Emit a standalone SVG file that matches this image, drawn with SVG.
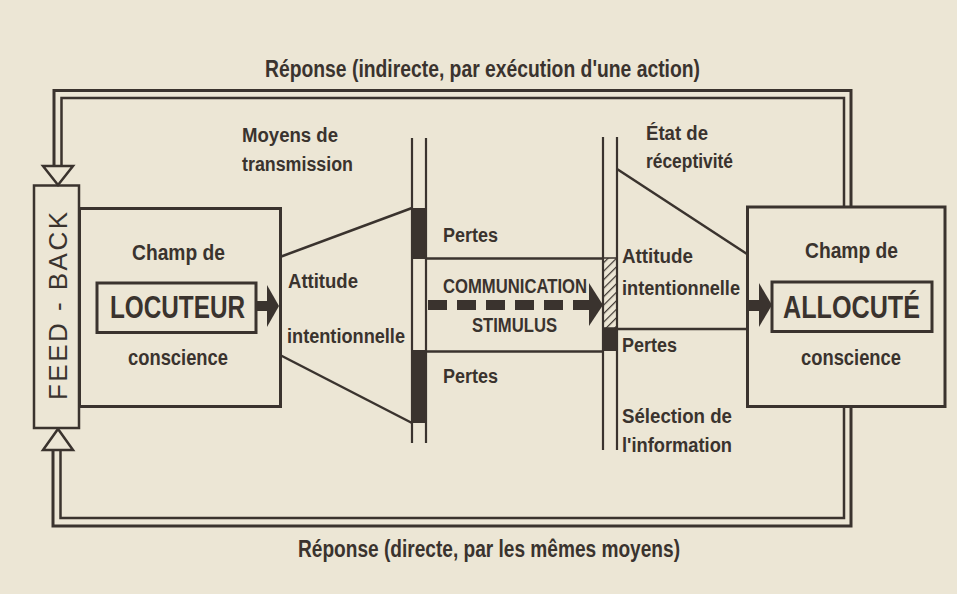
<svg xmlns="http://www.w3.org/2000/svg" width="957" height="594" viewBox="0 0 957 594">
<defs>
<style>
.ink{stroke:#3a332e;fill:none}
.t{font-family:"Liberation Sans",Arial,sans-serif;font-weight:bold;fill:#3a332e;font-size:20px}
.big{font-size:31px}
.rep{font-size:23px}
.fill{fill:#3a332e}
</style>
<pattern id="hatch" patternUnits="userSpaceOnUse" width="6" height="6" patternTransform="rotate(45)">
<rect width="6" height="6" fill="#ece6d5"/>
<line x1="0" y1="0" x2="0" y2="6" stroke="#3a332e" stroke-width="2.4"/>
</pattern>
</defs>
<rect width="957" height="594" fill="#ece6d5"/>

<g id="connectors">
<!-- top feedback double line -->
<polyline class="ink" stroke-width="3" points="54,167 54,90.5 851,90.5 851,207"/>
<polyline class="ink" stroke-width="2.5" points="61.5,167 61.5,98 844,98 844,207"/>
<polygon class="ink" stroke-width="2.5" fill="#ece6d5" points="43,166 73,166 58,185"/>
<!-- bottom feedback double line -->
<polyline class="ink" stroke-width="3" points="53,450 53,526 851,526 851,406"/>
<polyline class="ink" stroke-width="2.5" points="60.5,450 60.5,518 844,518 844,406"/>
<polygon class="ink" stroke-width="2.5" fill="#ece6d5" points="43,450 73,450 58,429"/>
<!-- trapezoid left -->
<line class="ink" stroke-width="2.5" x1="280" y1="257" x2="412" y2="208"/>
<line class="ink" stroke-width="2.5" x1="280" y1="355" x2="412" y2="423"/>
<!-- left bars -->
<rect class="fill" x="412" y="208" width="14" height="51"/>
<rect class="fill" x="412" y="350" width="14" height="73"/>
<line class="ink" stroke-width="2.2" x1="412" y1="138" x2="412" y2="443"/>
<line class="ink" stroke-width="2.2" x1="426" y1="138" x2="426" y2="443"/>
<!-- channel -->
<line class="ink" stroke-width="2.5" x1="426" y1="258.5" x2="603" y2="258.5"/>
<line class="ink" stroke-width="2.5" x1="426" y1="351.5" x2="603" y2="351.5"/>
<!-- right bars -->
<rect x="603" y="258" width="14" height="70" fill="url(#hatch)" stroke="#3a332e" stroke-width="1.5"/>
<rect class="fill" x="603" y="328" width="14" height="23"/>
<line class="ink" stroke-width="2.2" x1="603" y1="137" x2="603" y2="450"/>
<line class="ink" stroke-width="2.2" x1="617" y1="137" x2="617" y2="450"/>
<!-- right trapezoid -->
<line class="ink" stroke-width="2.5" x1="617" y1="169" x2="747" y2="254"/>
<line class="ink" stroke-width="2.5" x1="617" y1="329" x2="747" y2="329"/>
<!-- dashed communication arrow -->
<line class="ink" stroke-width="10" stroke-dasharray="19 10" x1="428" y1="305" x2="590" y2="305"/>
<polygon class="fill" points="589,283 603,305 589,326"/>
<!-- locuteur arrow -->
<rect class="fill" x="256" y="301" width="13" height="10"/>
<polygon class="fill" points="267,285 279,306 267,327"/>
<!-- allocute arrow -->
<rect class="fill" x="747" y="300" width="14" height="11"/>
<polygon class="fill" points="759,283 772,305 759,327"/>
</g>

<g id="feedback">
<rect class="ink" stroke-width="2.5" x="34" y="185.5" width="45" height="242.5" fill="#ece6d5"/>
<text class="t" transform="translate(67,306) rotate(-90)" text-anchor="middle" style="font-weight:normal;font-size:26px" textLength="188" lengthAdjust="spacing">FEED - BACK</text>
</g>

<g id="locuteur">
<rect class="ink" stroke-width="3" x="79.5" y="208.5" width="201" height="198"/>
<rect class="ink" stroke-width="3" x="97" y="283" width="159" height="49.5"/>
<text class="t" x="132" y="260" textLength="93" lengthAdjust="spacingAndGlyphs" style="font-size:22px">Champ de</text>
<text class="t big" x="110" y="318" textLength="135" lengthAdjust="spacingAndGlyphs">LOCUTEUR</text>
<text class="t" x="128" y="365" textLength="100" lengthAdjust="spacingAndGlyphs" style="font-size:22px">conscience</text>
</g>

<g id="allocute">
<rect class="ink" stroke-width="3" x="747.5" y="207" width="197.5" height="199.5"/>
<rect class="ink" stroke-width="3" x="772" y="282" width="160" height="49.5"/>
<text class="t" x="805" y="258" textLength="93" lengthAdjust="spacingAndGlyphs" style="font-size:22px">Champ de</text>
<text class="t big" x="783" y="318" textLength="137" lengthAdjust="spacingAndGlyphs">ALLOCUTÉ</text>
<text class="t" x="801" y="365" textLength="100" lengthAdjust="spacingAndGlyphs" style="font-size:22px">conscience</text>
</g>

<g id="labels">
<text class="t rep" x="265" y="77" textLength="435" lengthAdjust="spacingAndGlyphs">Réponse (indirecte, par exécution d'une action)</text>
<text class="t rep" x="298" y="557" textLength="382" lengthAdjust="spacingAndGlyphs">Réponse (directe, par les mêmes moyens)</text>
<text class="t" x="242" y="142" textLength="96" lengthAdjust="spacingAndGlyphs">Moyens de</text>
<text class="t" x="242" y="171" textLength="111" lengthAdjust="spacingAndGlyphs">transmission</text>
<text class="t" x="288" y="288" textLength="70" lengthAdjust="spacingAndGlyphs">Attitude</text>
<text class="t" x="287" y="343" textLength="118" lengthAdjust="spacingAndGlyphs">intentionnelle</text>
<text class="t" x="443" y="242" textLength="55" lengthAdjust="spacingAndGlyphs">Pertes</text>
<text class="t" x="443" y="383" textLength="55" lengthAdjust="spacingAndGlyphs">Pertes</text>
<text class="t" x="443" y="293" textLength="144" lengthAdjust="spacingAndGlyphs" style="font-size:21px">COMMUNICATION</text>
<text class="t" x="472" y="332" textLength="85" lengthAdjust="spacingAndGlyphs" style="font-size:21px">STIMULUS</text>
<text class="t" x="646" y="140" textLength="62" lengthAdjust="spacingAndGlyphs">État de</text>
<text class="t" x="646" y="168" textLength="87" lengthAdjust="spacingAndGlyphs">réceptivité</text>
<text class="t" x="622" y="263" textLength="71" lengthAdjust="spacingAndGlyphs">Attitude</text>
<text class="t" x="622" y="295" textLength="118" lengthAdjust="spacingAndGlyphs">intentionnelle</text>
<text class="t" x="622" y="352" textLength="55" lengthAdjust="spacingAndGlyphs">Pertes</text>
<text class="t" x="622" y="423" textLength="110" lengthAdjust="spacingAndGlyphs">Sélection de</text>
<text class="t" x="622" y="452" textLength="110" lengthAdjust="spacingAndGlyphs">l'information</text>
</g>
</svg>
